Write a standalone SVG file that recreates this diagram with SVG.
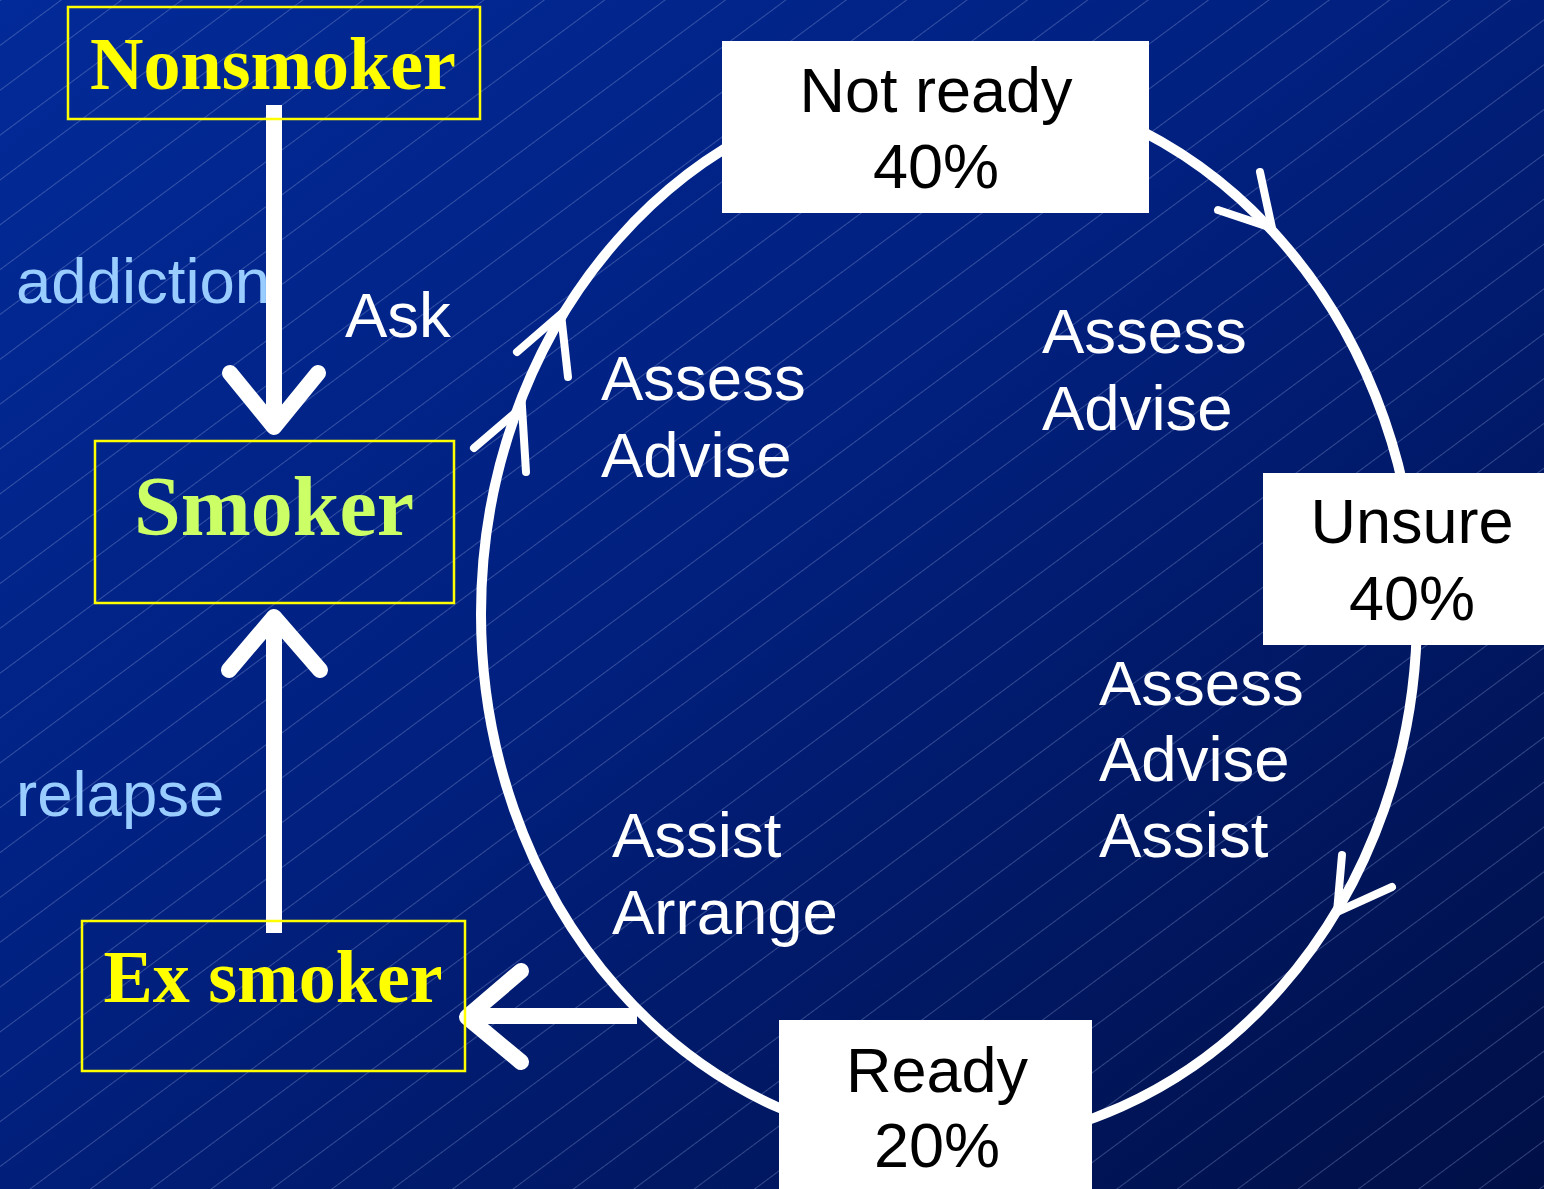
<svg xmlns="http://www.w3.org/2000/svg" width="1544" height="1189" viewBox="0 0 1544 1189">
  <defs>
    <linearGradient id="bg" x1="0" y1="0" x2="1" y2="1">
      <stop offset="0" stop-color="#022a98"/>
      <stop offset="0.45" stop-color="#01207f"/>
      <stop offset="1" stop-color="#000f46"/>
    </linearGradient>
    <pattern id="hatch" patternUnits="userSpaceOnUse" width="20" height="36" patternTransform="rotate(-36.6)">
      <line x1="0" y1="0.5" x2="20" y2="0.5" stroke="#9fb0e0" stroke-opacity="0.32" stroke-width="1"/>
    </pattern>
  </defs>
  <style>
    .stage { fill: #ffffff; }
    .stagetxt { font-family: "Liberation Sans", Arial, sans-serif; font-size: 63px; fill: #000000; text-anchor: middle; }
    .state { fill: none; stroke: #ffff00; stroke-width: 2.5; }
    .statetxt { font-family: "Liberation Serif", "Times New Roman", serif; font-weight: bold; text-anchor: middle; }
    .lbl { font-family: "Liberation Sans", Arial, sans-serif; font-size: 63.5px; fill: #ffffff; }
    .blue { fill: #99ccff; }
    .thick { fill: none; stroke: #ffffff; stroke-width: 16; stroke-linecap: round; stroke-linejoin: round; }
    .cycle { fill: none; stroke: #ffffff; stroke-width: 10; }
    .head { fill: none; stroke: #ffffff; stroke-width: 8; stroke-linecap: round; stroke-linejoin: miter; }
  </style>
  <rect width="1544" height="1189" fill="url(#bg)"/>
  <rect width="1544" height="1189" fill="url(#hatch)"/>

  <g id="connectors">
    <ellipse class="cycle" cx="949" cy="614" rx="468" ry="530"/>
    <polyline class="head" points="1260,172 1272,228 1218,210"/>
    <polyline class="head" points="1342,855 1337,912 1392,887"/>
    <polyline class="head" points="517,352 561,314 568,377"/>
    <polyline class="head" points="474,448 522,407 526,472"/>
    <line x1="274" y1="105" x2="274" y2="425" stroke="#ffffff" stroke-width="16"/>
    <polyline class="thick" points="230,373 274,427 318,373"/>
    <line x1="274" y1="933" x2="274" y2="625" stroke="#ffffff" stroke-width="16"/>
    <polyline class="thick" points="229,670 274,617 320,670"/>
    <line x1="637" y1="1016" x2="472" y2="1016" stroke="#ffffff" stroke-width="16"/>
    <polyline class="thick" points="521,971 467,1017 521,1062"/>
  </g>

  <g id="nonsmoker">
    <rect class="state" x="68" y="7" width="412" height="112"/>
    <text class="statetxt" x="273" y="89" font-size="74" fill="#ffff00">Nonsmoker</text>
  </g>
  <g id="smoker">
    <rect class="state" x="95" y="441" width="359" height="162"/>
    <text class="statetxt" x="274" y="535" font-size="84" fill="#ccff66">Smoker</text>
  </g>
  <g id="exsmoker">
    <rect class="state" x="82" y="921" width="383" height="150"/>
    <text class="statetxt" x="273" y="1002" font-size="74" fill="#ffff00">Ex smoker</text>
  </g>

  <g id="notready">
    <rect class="stage" x="722" y="41" width="427" height="172"/>
    <text class="stagetxt" x="936" y="112">Not ready</text>
    <text class="stagetxt" x="936" y="188">40%</text>
  </g>
  <g id="unsure">
    <rect class="stage" x="1263" y="473" width="281" height="172"/>
    <text class="stagetxt" x="1412" y="543">Unsure</text>
    <text class="stagetxt" x="1412" y="620">40%</text>
  </g>
  <g id="ready">
    <rect class="stage" x="779" y="1020" width="313" height="169"/>
    <text class="stagetxt" x="937" y="1092">Ready</text>
    <text class="stagetxt" x="937" y="1167">20%</text>
  </g>

  <g id="labels">
    <text class="lbl blue" x="16" y="303">addiction</text>
    <text class="lbl" x="345" y="337">Ask</text>
    <text class="lbl blue" x="16" y="816">relapse</text>
    <text class="lbl" x="601" y="400">Assess</text>
    <text class="lbl" x="601" y="477">Advise</text>
    <text class="lbl" x="1042" y="353">Assess</text>
    <text class="lbl" x="1042" y="430">Advise</text>
    <text class="lbl" x="1099" y="705">Assess</text>
    <text class="lbl" x="1099" y="781">Advise</text>
    <text class="lbl" x="1099" y="857">Assist</text>
    <text class="lbl" x="612" y="857">Assist</text>
    <text class="lbl" x="612" y="934">Arrange</text>
  </g>
</svg>
